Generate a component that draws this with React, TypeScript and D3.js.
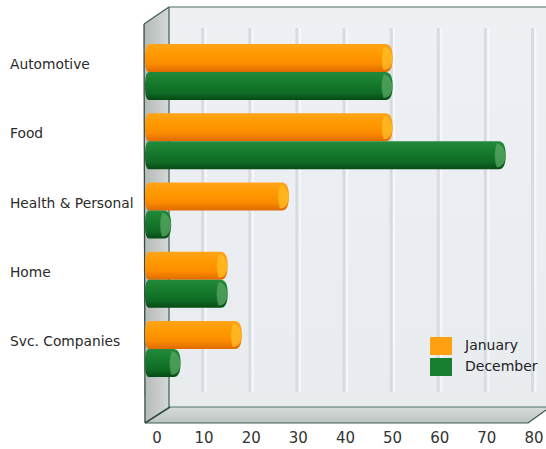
import React from "react";
import * as d3 from "d3";

const categories = ["Automotive", "Food", "Health & Personal", "Home", "Svc. Companies"];
const seriesNames = ["January", "December"];
const januaryValues = [50, 50, 28, 15, 18];
const decemberValues = [50, 74, 3, 15, 5];
const tickValues = [0, 10, 20, 30, 40, 50, 60, 70, 80];

const W = 546;
const H = 449;

export default function App() {
  const x = d3.scaleLinear().domain([0, 80]).range([157, 534]);
  const y = d3.scaleBand<string>().domain(categories).range([44, 377]).paddingInner(0.191).paddingOuter(0);
  const ys = d3.scaleBand<string>().domain(seriesNames).range([0, y.bandwidth()]);
  const values = [januaryValues, decemberValues];
  const grads = ["gOrange", "gGreen"];
  const caps = ["#ffbf2a", "#5aa866"];
  const capsDark = ["#f2a000", "#2f8a40"];

  const frontX = 145;
  const backX = 169;
  const topY = 7;
  const floorBackY = 407;
  const floorFrontY = 423;
  const font = "'DejaVu Sans', sans-serif";

  return (
    <svg width={W} height={H} style={{ position: "absolute", left: 0, top: 0 }}>
      <defs>
        <linearGradient id="gOrange" x1="0" y1="0" x2="0" y2="1">
          <stop offset="0" stopColor="#ffa41a" />
          <stop offset="0.35" stopColor="#ff9a00" />
          <stop offset="0.7" stopColor="#fb8c00" />
          <stop offset="1" stopColor="#e06a00" />
        </linearGradient>
        <linearGradient id="gGreen" x1="0" y1="0" x2="0" y2="1">
          <stop offset="0" stopColor="#238a3c" />
          <stop offset="0.4" stopColor="#157a2c" />
          <stop offset="0.75" stopColor="#0f6a24" />
          <stop offset="1" stopColor="#064a14" />
        </linearGradient>
        <linearGradient id="gWall" x1="0" y1="0" x2="0" y2="1">
          <stop offset="0" stopColor="#eef0f4" />
          <stop offset="1" stopColor="#e8ecef" />
        </linearGradient>
        <linearGradient id="gLeft" x1="0" y1="0" x2="1" y2="0">
          <stop offset="0" stopColor="#b4bab8" />
          <stop offset="1" stopColor="#d4d8d8" />
        </linearGradient>
        <linearGradient id="gFloor" x1="0" y1="0" x2="0" y2="1">
          <stop offset="0" stopColor="#d6dcda" />
          <stop offset="1" stopColor="#bcc4c2" />
        </linearGradient>
      </defs>

      {/* back wall */}
      <rect x={backX} y={topY} width={W - backX} height={floorBackY - topY} fill="url(#gWall)" />
      {/* gridlines */}
      {tickValues.slice(1).map((t) => (
        <g key={"g" + t}>
          <line x1={x(t) - 1.5} x2={x(t) - 1.5} y1={28} y2={392} stroke="#d8dce2" strokeWidth={3} />
          <line x1={x(t) + 1.5} x2={x(t) + 1.5} y1={28} y2={392} stroke="#f6f7f9" strokeWidth={2} />
        </g>
      ))}
      {/* left wall */}
      <polygon
        points={`${frontX - 1},${topY + 17} ${backX},${topY} ${backX},${floorBackY} ${frontX},${floorFrontY}`}
        fill="url(#gLeft)"
      />
      {/* floor */}
      <polygon
        points={`${frontX},${floorFrontY} ${backX + 1},${floorBackY} ${W},${floorBackY} ${W},${floorBackY + 3} ${528},${floorFrontY}`}
        fill="url(#gFloor)"
      />
      <line x1={backX + 1} y1={floorBackY} x2={W} y2={floorBackY} stroke="#55736a" strokeWidth={1} />
      <line x1={frontX} y1={floorFrontY} x2={528} y2={floorFrontY} stroke="#3d5a52" strokeWidth={1.2} />
      <line x1={528} y1={floorFrontY} x2={W} y2={floorBackY + 3} stroke="#3d5a52" strokeWidth={1.2} />
      <line x1={frontX} y1={floorFrontY} x2={backX + 1} y2={floorBackY} stroke="#2e4a42" strokeWidth={1.5} />
      <line x1={backX} y1={topY} x2={backX} y2={floorBackY} stroke="#3f5a52" strokeWidth={1.2} />
      <line x1={backX} y1={topY} x2={W} y2={topY} stroke="#4a6a62" strokeWidth={1.2} />
      <line x1={frontX - 1} y1={topY + 17} x2={backX} y2={topY} stroke="#3f5a52" strokeWidth={1.2} />
      <line x1={frontX - 1} y1={topY + 17} x2={frontX} y2={floorFrontY} stroke="#3a4a46" strokeWidth={1.3} />

      {/* bars */}
      {categories.map((c, i) => (
        <g key={c}>
          {seriesNames.map((s, j) => {
            const v = values[j][i];
            const by = (y(c) ?? 0) + (ys(s) ?? 0);
            const bh = ys.bandwidth();
            const x1 = x(v);
            const r = 7;
            return (
              <g key={s}>
                <path
                  d={`M${frontX + 4},${by} L${x1 - r},${by} Q${x1},${by} ${x1},${by + bh / 2} Q${x1},${by + bh} ${x1 - r},${by + bh} L${frontX + 4},${by + bh} Q${frontX},${by + bh} ${frontX},${by + bh / 2} Q${frontX},${by} ${frontX + 4},${by}Z`}
                  fill={`url(#${grads[j]})`}
                />
                <path
                  d={`M${x1 - r - 2},${by + 2} Q${x1 - 2},${by + 3} ${x1},${by + bh / 2} Q${x1 - 1},${by + bh - 2} ${x1 - r - 2},${by + bh - 2} Q${x1 - r - 6},${by + bh / 2} ${x1 - r - 2},${by + 2}Z`}
                  fill={caps[j]}
                  opacity={0.75}
                />
                <path
                  d={`M${x1 - r - 2},${by + 2} Q${x1 - r - 6},${by + bh / 2} ${x1 - r - 2},${by + bh - 2}`}
                  fill="none"
                  stroke={capsDark[j]}
                  strokeWidth={1}
                  opacity={0.5}
                />
              </g>
            );
          })}
          <text
            x={10}
            y={(y(c) ?? 0) + y.bandwidth() / 2 - 7}
            dominantBaseline="middle"
            fontFamily={font}
            fontSize={13.8}
            fill="#2a2a2a"
          >
            {c}
          </text>
        </g>
      ))}

      {/* tick labels */}
      {tickValues.map((t) => (
        <text
          key={"t" + t}
          x={x(t)}
          y={438}
          textAnchor="middle"
          dominantBaseline="middle"
          fontFamily={font}
          fontSize={15}
          fill="#333"
        >
          {t}
        </text>
      ))}

      {/* legend */}
      {seriesNames.map((s, j) => (
        <g key={"l" + s}>
          <rect x={430} y={337 + j * 21} width={22} height={18} fill={j === 0 ? "#ffa010" : "#178030"} />
          <text
            x={465}
            y={346 + j * 21}
            dominantBaseline="middle"
            fontFamily={font}
            fontSize={14}
            fill="#222"
          >
            {s}
          </text>
        </g>
      ))}
    </svg>
  );
}
